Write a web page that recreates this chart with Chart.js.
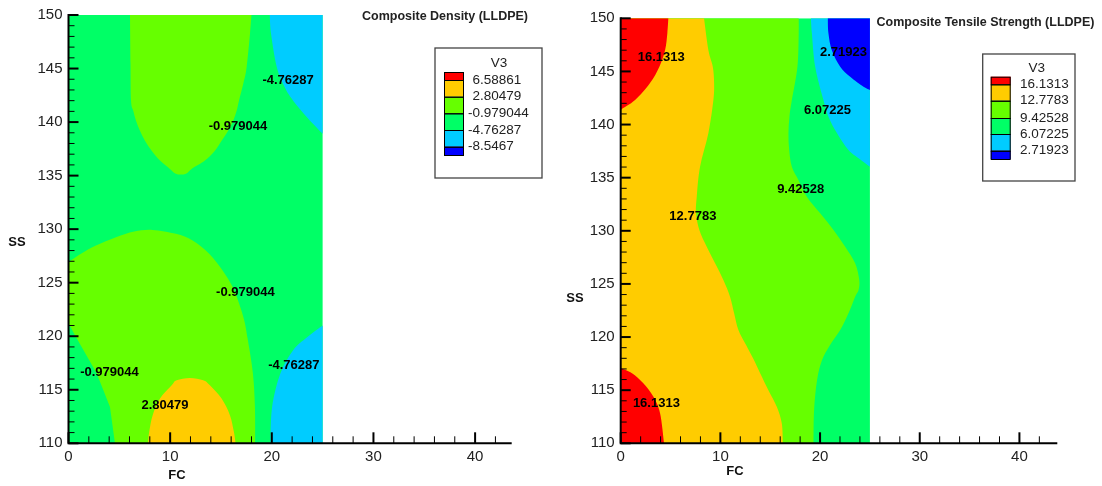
<!DOCTYPE html>
<html><head><meta charset="utf-8">
<script src="https://cdn.jsdelivr.net/npm/chart.js@4.4.1/dist/chart.umd.min.js"></script>
<style>
html,body{margin:0;padding:0;background:#fff;}
#wrap{position:relative;width:1102px;height:486px;overflow:hidden;}
.c{position:absolute;top:0;width:551px;height:486px;}
</style></head><body>
<div id="wrap">
<div class="c" style="left:0"><canvas id="c1" width="551" height="486"></canvas></div>
<div class="c" style="left:551px"><canvas id="c2" width="551" height="486"></canvas></div>
</div>
<script>
// ---------- data ----------
const levelColors = ['#ff0000', '#ffcc00', '#66ff00', '#00ff66', '#00ccff', '#0000ff'];
const densityLevels = ['6.58861', '2.80479', '-0.979044', '-4.76287', '-8.5467'];
const tensileLevels = ['16.1313', '12.7783', '9.42528', '6.07225', '2.71923'];
const xMajorTicks = [0, 10, 20, 30, 40];
const xMinorTicks = [2, 4, 6, 8, 12, 14, 16, 18, 22, 24, 26, 28, 32, 34, 36, 38, 42];
const yMajorTicks = [110, 115, 120, 125, 130, 135, 140, 145, 150];
const yMinorTicks = [111,112,113,114,116,117,118,119,121,122,123,124,126,127,128,129,131,132,133,134,136,137,138,139,141,142,143,144,146,147,148,149];

// Composite Density regions: boundary curve + closing corners
const densityBase = [[0, 110], [25, 110], [25, 150], [0, 150]];
const densityTopLimeCurve = [[6.05,150],[6.1,145.5],[6.15,142.0],[6.37,141.05],[6.64,140.12],[7.03,139.19],[7.52,138.26],[8.18,137.33],[9.0,136.4],[9.98,135.62],[10.5,135.2],[11.05,135.1],[11.6,135.2],[12.11,135.62],[13.42,136.4],[14.4,137.33],[15.06,138.26],[15.71,139.19],[16.2,140.12],[16.54,141.05],[16.77,142.0],[17.2,143.6],[17.52,145.1],[17.85,148.2],[18.0,150]];
const densityTopCyanCurve = [[19.8,150],[19.93,148.2],[20.5,145.1],[21.3,143.2],[22.1,142.0],[23.5,140.4],[25,138.9]];
const densityTopCyanCorners = [[25,150]];
const densityLowLimeCurve = [[0,126.92],[1.23,127.7],[2.7,128.47],[4.67,129.25],[6.47,129.78],[8.28,129.93],[10.57,129.56],[12.21,128.94],[13.84,127.7],[15.16,126.14],[16.15,124.59],[16.79,123.04],[17.29,121.48],[17.62,119.78],[18.14,116.55],[18.34,113.4],[18.36,110]];
const densityLowLimeEdge = [[4.57,110],[4.08,113.4],[2.77,116.54],[0.93,119.6],[0,121.2]];
const densityOrangeCurve = [[7.83,110],[7.94,111.07],[8.28,112.63],[9.0,114.18],[10.15,115.42],[10.64,115.89],[11.95,116.1],[13.25,115.89],[13.91,115.42],[15.06,114.18],[15.88,112.63],[16.27,111.07],[16.44,110]];
const densityLowCyanCurve = [[19.86,110],[20.03,113.4],[20.85,116.55],[22.1,118.7],[23.47,119.9],[25,121.0]];
const densityLowCyanCorners = [[25,110]];
const densityLabelText = ['-4.76287', '-0.979044', '-0.979044', '-0.979044', '2.80479', '-4.76287'];
const densityLabelX = [21.6, 16.67, 17.4, 4.03, 9.49, 22.17];
const densityLabelY = [143.9, 139.55, 124.1, 116.6, 113.5, 117.3];

// Composite Tensile Strength regions
const tensileBase = [[0, 110], [25, 110], [25, 150], [0, 150]];
const tensileLimeCurve = [[17.86,150],[17.86,148.6],[17.73,145.45],[17.17,142.3],[16.93,140.74],[16.83,139.2],[16.9,137.6],[17.17,136.03],[17.83,134.78],[18.67,133.21],[20.01,131.65],[21.35,130.08],[22.52,128.5],[23.52,126.94],[23.93,125.37],[23.86,124.43],[23.52,123.8],[22.85,122.24],[22.02,120.66],[21.0,119.25],[20.2,117.84],[19.7,115.96],[19.4,113.14],[19.34,110]];
const tensileOrangeCurve = [[8.36,150],[8.8,147.0],[9.24,145.45],[9.37,143.9],[9.3,142.3],[8.8,139.2],[7.96,136.03],[7.63,133.21],[7.56,131.65],[7.89,130.08],[8.63,128.5],[9.47,126.94],[10.3,125.37],[10.97,123.8],[11.38,122.24],[11.81,120.66],[12.58,119.25],[13.28,118.0],[13.99,116.6],[14.82,115.0],[15.66,113.44],[16.16,111.88],[16.27,110]];
const tensileLeftCorners = [[0,110],[0,150]];
const tensileRedTopCurve = [[4.78,150],[4.68,148.6],[4.45,147.0],[3.88,145.45],[2.94,143.9],[1.44,142.3],[0,141.4]];
const tensileRedTopCorners = [[0,150]];
const tensileRedLowCurve = [[0,117.07],[1.13,116.6],[2.27,115.66],[3.27,114.4],[3.95,112.84],[4.35,110]];
const tensileRedLowCorners = [[0,110]];
const tensileCyanCurve = [[19.08,150],[19.18,148.6],[19.51,145.45],[20.34,142.3],[20.84,140.74],[21.69,139.2],[22.85,137.6],[23.82,136.86],[25,136.04]];
const tensileBlueCurve = [[20.78,150],[20.84,148.6],[21.18,147.0],[22.02,145.45],[23.02,144.5],[24.36,143.56],[25,143.25]];
const tensileRightCorners = [[25,150]];
const tensileLabelText = ['16.1313', '2.71923', '6.07225', '9.42528', '12.7783', '16.1313'];
const tensileLabelX = [4.06, 22.35, 20.74, 18.05, 7.24, 3.58];
const tensileLabelY = [146.3, 146.76, 141.3, 133.94, 131.33, 113.8];

// ---------- helpers ----------
const FONT = '"Liberation Sans", Arial, sans-serif';
function region(curve, corners, color) {
  const pts = curve.concat(corners).map(p => ({x: p[0], y: p[1]}));
  return {data: pts, nCurve: curve.length, backgroundColor: color, pointRadius: 0, showLine: false, borderWidth: 0};
}

const regionPlugin = {
  id: 'regionFill',
  beforeDatasetsDraw(chart) {
    const ctx = chart.ctx, a = chart.chartArea;
    ctx.save();
    ctx.beginPath(); ctx.rect(a.left, a.top, a.right - a.left, a.bottom - a.top); ctx.clip();
    chart.data.datasets.forEach((ds, i) => {
      const pts = chart.getDatasetMeta(i).data.map(p => ({x: p.x, y: p.y}));
      const n = ds.nCurve;
      ctx.beginPath();
      ctx.moveTo(pts[0].x, pts[0].y);
      for (let k = 0; k < n - 1; k++) {
        const p0 = pts[Math.max(k - 1, 0)], p1 = pts[k], p2 = pts[k + 1], p3 = pts[Math.min(k + 2, n - 1)];
        ctx.bezierCurveTo(p1.x + (p2.x - p0.x) / 6, p1.y + (p2.y - p0.y) / 6,
                          p2.x - (p3.x - p1.x) / 6, p2.y - (p3.y - p1.y) / 6, p2.x, p2.y);
      }
      for (let k = Math.max(n, 1); k < pts.length; k++) ctx.lineTo(pts[k].x, pts[k].y);
      ctx.closePath();
      ctx.fillStyle = ds.backgroundColor;
      ctx.fill();
    });
    ctx.restore();
  }
};

function decoPlugin(cfg) {
  return {
    id: 'deco',
    afterDatasetsDraw(chart) {
      const ctx = chart.ctx, xs = chart.scales.x, ys = chart.scales.y, a = chart.chartArea;
      ctx.save();
      // contour labels
      ctx.fillStyle = '#000';
      ctx.font = 'bold 13px ' + FONT;
      ctx.textAlign = 'center'; ctx.textBaseline = 'middle';
      cfg.labelText.forEach((t, i) => ctx.fillText(t, xs.getPixelForValue(cfg.labelX[i]), ys.getPixelForValue(cfg.labelY[i])));
      // axes
      ctx.strokeStyle = '#000';
      ctx.lineWidth = 2;
      ctx.beginPath();
      ctx.moveTo(a.left, a.top - 1); ctx.lineTo(a.left, a.bottom);
      ctx.lineTo(a.right, a.bottom);
      ctx.stroke();
      // ticks (inside)
      const tick = (v, len, w, axis) => {
        ctx.lineWidth = w; ctx.beginPath();
        if (axis === 'x') { const p = xs.getPixelForValue(v); ctx.moveTo(p, a.bottom); ctx.lineTo(p, a.bottom - len); }
        else { const p = ys.getPixelForValue(v); ctx.moveTo(a.left, p); ctx.lineTo(a.left + len, p); }
        ctx.stroke();
      };
      xMajorTicks.forEach(v => tick(v, 11, 2, 'x'));
      xMinorTicks.forEach(v => tick(v, 7, 1, 'x'));
      yMajorTicks.forEach(v => tick(v, 10, 2, 'y'));
      yMinorTicks.forEach(v => tick(v, 6, 1, 'y'));
      // axis titles
      ctx.font = 'bold 13px ' + FONT;
      ctx.fillStyle = '#111';
      ctx.fillText('SS', cfg.ssPos[0], cfg.ssPos[1]);
      ctx.fillText('FC', cfg.fcPos[0], cfg.fcPos[1]);
      // title
      ctx.font = 'bold 12.5px ' + FONT;
      ctx.fillStyle = '#222';
      ctx.fillText(cfg.title, cfg.titlePos[0], cfg.titlePos[1]);
      // legend
      const L = cfg.legend;
      ctx.lineWidth = 1.3; ctx.strokeStyle = '#444';
      ctx.strokeRect(L.box[0], L.box[1], L.box[2] - L.box[0], L.box[3] - L.box[1]);
      ctx.font = '13.5px ' + FONT; ctx.fillStyle = '#222';
      ctx.fillText('V3', L.v3[0], L.v3[1]);
      for (let i = 0; i < 6; i++) {
        ctx.fillStyle = levelColors[i];
        ctx.fillRect(L.sx, L.edges[i], L.sw, L.edges[i + 1] - L.edges[i]);
      }
      ctx.strokeStyle = '#000'; ctx.lineWidth = 1;
      for (let i = 0; i < 6; i++) ctx.strokeRect(L.sx + 0.5, L.edges[i] + 0.5, L.sw - 1, L.edges[i + 1] - L.edges[i]);
      ctx.fillStyle = '#222'; ctx.textAlign = 'left';
      cfg.levels.forEach((t, i) => ctx.fillText(t, t[0] === '-' ? L.tx : L.tx + 4.5, L.edges[i + 1]));
      ctx.restore();
    }
  };
}

function makeChart(id, datasets, xMax, area, cfg) {
  return new Chart(document.getElementById(id), {
    type: 'scatter',
    data: {datasets},
    options: {
      responsive: false, animation: false, events: [],
      layout: {padding: {left: 0, top: area.top, right: 551 - area.right, bottom: 0}},
      plugins: {legend: {display: false}, tooltip: {enabled: false}, title: {display: false}},
      scales: {
        x: {type: 'linear', min: 0, max: xMax,
            grid: {display: false, drawTicks: false}, border: {display: false},
            ticks: {stepSize: 10, includeBounds: false, padding: 5, color: '#222', font: {family: FONT, size: 15}},
            afterFit: s => { s.height = 486 - area.bottom; }},
        y: {type: 'linear', min: 110, max: 150,
            grid: {display: false, drawTicks: false}, border: {display: false},
            ticks: {stepSize: 5, padding: 6, color: '#222', font: {family: FONT, size: 15}},
            afterFit: s => { s.width = area.left; }}
      }
    },
    plugins: [regionPlugin, decoPlugin(cfg)]
  });
}

makeChart('c1', [
  region([], densityBase, levelColors[3]),
  region(densityTopLimeCurve, [], levelColors[2]),
  region(densityTopCyanCurve, densityTopCyanCorners, levelColors[4]),
  region(densityLowLimeCurve, densityLowLimeEdge, levelColors[2]),
  region(densityOrangeCurve, [], levelColors[1]),
  region(densityLowCyanCurve, densityLowCyanCorners, levelColors[4])
], 43.6, {left: 68.5, right: 511.7, top: 14, bottom: 443.3}, {
  labelText: densityLabelText, labelX: densityLabelX, labelY: densityLabelY,
  levels: densityLevels, title: 'Composite Density (LLDPE)', titlePos: [445, 17],
  ssPos: [17, 242], fcPos: [177, 475],
  legend: {box: [435, 48, 542, 178], v3: [499, 63], sx: 444, sw: 20, edges: [72, 80, 96.7, 113.3, 130, 146.7, 155], tx: 468}
});

makeChart('c2', [
  region([], tensileBase, levelColors[3]),
  region(tensileLimeCurve, tensileLeftCorners, levelColors[2]),
  region(tensileOrangeCurve, tensileLeftCorners, levelColors[1]),
  region(tensileRedTopCurve, tensileRedTopCorners, levelColors[0]),
  region(tensileRedLowCurve, tensileRedLowCorners, levelColors[0]),
  region(tensileCyanCurve, tensileRightCorners, levelColors[4]),
  region(tensileBlueCurve, tensileRightCorners, levelColors[5])
], 43.8, {left: 69.7, right: 506.3, top: 18.3, bottom: 443.3}, {
  labelText: tensileLabelText, labelX: tensileLabelX, labelY: tensileLabelY,
  levels: tensileLevels, title: 'Composite Tensile Strength (LLDPE)', titlePos: [434.5, 22.5],
  ssPos: [24, 298], fcPos: [184, 471],
  legend: {box: [431.7, 54, 524, 181], v3: [485.7, 68.3], sx: 439.7, sw: 20, edges: [76.7, 84.3, 100.7, 118, 134, 150.7, 159], tx: 464.5}
});
</script>
</body></html>
